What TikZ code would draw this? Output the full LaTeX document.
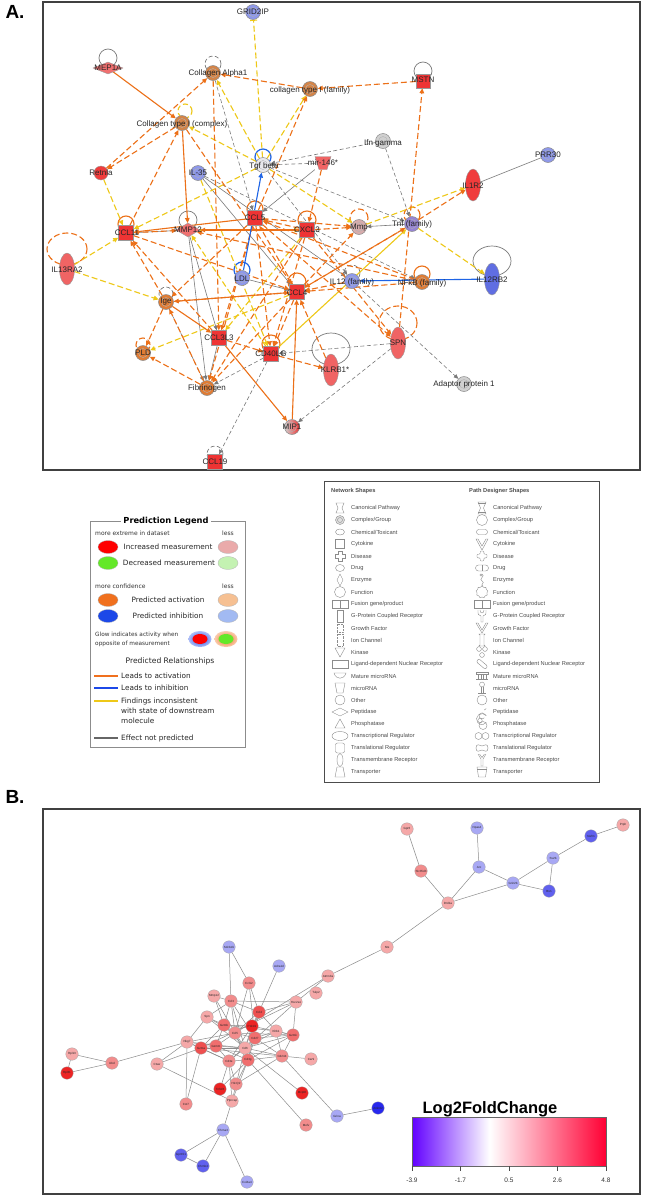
\documentclass[tikz,border=0pt]{standalone}
\usepackage{fontspec}
\setmainfont{Liberation Sans}
\newfontfamily\dvs{DejaVu Sans}
\usetikzlibrary{shapes.geometric,arrows.meta,calc}
\pgfdeclarelayer{bg}
\pgfdeclarelayer{paper}
\pgfsetlayers{paper,bg,main}
% node colours
\definecolor{nred}{RGB}{238,52,52}
\definecolor{nred2}{RGB}{240,60,60}
\definecolor{npink}{RGB}{240,100,100}
\definecolor{nmep}{RGB}{240,112,112}
\definecolor{norg}{RGB}{224,124,52}
\definecolor{ncol}{RGB}{212,132,72}
\definecolor{nbl}{RGB}{142,152,234}
\definecolor{nbl2}{RGB}{96,110,226}
\definecolor{ngry}{RGB}{208,208,208}
\definecolor{nwh}{RGB}{232,232,236}
\definecolor{ntnf}{RGB}{150,132,212}
\definecolor{nmmp}{RGB}{214,172,172}
% edge colours
\definecolor{eor}{RGB}{236,112,24}
\definecolor{eye}{RGB}{238,200,24}
\definecolor{egr}{RGB}{122,122,122}
\definecolor{ebl}{RGB}{30,100,230}
% legend colours
\definecolor{lred}{RGB}{255,0,0}
\definecolor{lredL}{RGB}{234,170,170}
\definecolor{lgrn}{RGB}{100,232,40}
\definecolor{lgrnL}{RGB}{196,242,178}
\definecolor{lorg}{RGB}{240,112,30}
\definecolor{lorgL}{RGB}{246,192,146}
\definecolor{lblu}{RGB}{28,72,232}
\definecolor{lbluL}{RGB}{162,186,242}
% panel B colours
\definecolor{bpL}{RGB}{245,168,168}
\definecolor{bp}{RGB}{242,140,140}
\definecolor{bp2}{RGB}{240,110,110}
\definecolor{br2}{RGB}{238,80,80}
\definecolor{br}{RGB}{236,36,36}
\definecolor{bbL}{RGB}{168,168,244}
\definecolor{bb}{RGB}{96,96,238}
\definecolor{bbD}{RGB}{40,40,238}
\definecolor{cbarL}{RGB}{98,0,255}
\definecolor{cbarR}{RGB}{255,0,52}
\pgfdeclarehorizontalshading{lfc}{100bp}{color(0bp)=(cbarL); color(25bp)=(cbarL); color(45bp)=(white); color(75bp)=(cbarR); color(100bp)=(cbarR)}
\newcommand\sloop[4]{\draw[#4] ($(#1.center)+(0,-#2)$) circle[radius=#3pt];}
\begin{document}
\begin{tikzpicture}[x=1pt,y=-1pt,
 ar/.style={-{Triangle[length=5pt,width=4.5pt]}},
 oD/.style={draw=eor,line width=1.1pt,dash pattern=on 6pt off 3pt,ar},
 oS/.style={draw=eor,line width=1.1pt,ar},
 yD/.style={draw=eye,line width=1.1pt,dash pattern=on 6pt off 3pt,ar},
 yS/.style={draw=eye,line width=1.1pt,ar},
 gD/.style={draw=egr,line width=0.6pt,dash pattern=on 4pt off 2.5pt,-{Triangle[length=4.5pt,width=4pt]}},
 gS/.style={draw=egr,line width=0.6pt,-{Triangle[length=4.5pt,width=4pt]}},
 bS/.style={draw=ebl,line width=1.1pt,ar},
 lO/.style={draw=eor,line width=1.1pt},
 lOD/.style={draw=eor,line width=1.1pt,dash pattern=on 6pt off 3pt},
 lY/.style={draw=eye,line width=1.1pt,dash pattern=on 5pt off 3pt},
 lG/.style={draw=egr,line width=0.7pt},
 lGD/.style={draw=egr,line width=0.7pt,dash pattern=on 4pt off 2.5pt},
 lB/.style={draw=ebl,line width=1.2pt},
 ci/.style={circle,draw=black!45,line width=0.5pt,minimum size=15pt,inner sep=0pt,
   path picture={\draw[black!30,line width=0.4pt] (path picture bounding box.center) circle[radius=4.5pt];}},
 sq/.style={rectangle,draw=black!40,line width=0.4pt,minimum size=15pt,inner sep=0pt},
 el/.style={ellipse,draw=black!40,line width=0.4pt,minimum width=15pt,minimum height=32pt,inner sep=0pt},
 dia/.style={diamond,draw=black!40,line width=0.4pt,aspect=2.5,minimum width=30pt,minimum height=12pt,inner sep=0pt},
 lbl/.style={font=\fontsize{8}{9}\selectfont,text=black!85,inner sep=0pt},
 frame/.style={draw=black!75,line width=1.4pt},
 ltx/.style={font=\dvs\fontsize{7.3}{8}\selectfont,text=black!85,inner sep=0pt},
 ltxs/.style={font=\dvs\fontsize{6}{7}\selectfont,text=black!80,inner sep=0pt},
 lel/.style={ellipse,draw=black!30,line width=0.3pt,minimum width=20pt,minimum height=13pt,inner sep=0pt},
 ntx/.style={font=\fontsize{5.7}{6.5}\selectfont,text=black!70,anchor=west,inner sep=0pt},
 ic/.style={draw=black!45,line width=0.4pt},
 bn/.style={circle,draw=black!35,line width=0.3pt,minimum size=12.5pt,inner sep=0pt,font=\fontsize{3}{3}\selectfont,text=black!85},
 be/.style={draw=black!45,line width=0.5pt}
]
\useasboundingbox (0,0) rectangle (645,1197);
\begin{pgfonlayer}{paper}
\fill[white] (0,0) rectangle (645,1197);
\end{pgfonlayer}

% ================= PANEL A =================
\draw[frame] (43,2) rectangle (640,470);
\node[font=\bfseries\fontsize{19}{19}\selectfont] (labA) at (15,12) {A.};

\node[ci,fill=nbl] (grid) at (253,12) {};
\node[dia,fill=nmep] (mep) at (108,68) {};
\node[ci,fill=ncol] (colA) at (213,73) {};
\node[ci,fill=ncol] (colF) at (310,89) {};
\node[sq,fill=nred,minimum size=14pt] (mstn) at (423,81) {};
\node[ci,fill=ncol] (colC) at (182,123) {};
\node[ci,fill=ngry] (ifn) at (383,141) {};
\node[ci,fill=nbl] (prr) at (548,155) {};
\node[ci,fill=nwh] (tgf) at (263,165) {};
\node[rectangle,minimum width=16pt,minimum height=13pt,inner sep=0pt] (mir) at (323,163) {};
\filldraw[fill=npink,draw=black!40,line width=0.4pt] (315,156.5) -- (331,156.5) -- (327,169.5) -- (319,169.5) -- cycle;
\node[circle,draw=black!40,minimum size=14pt,inner sep=0pt,fill=nred2] (retn) at (101,173) {};
\node[ci,fill=nbl] (il35) at (198,173) {};
\node[el,fill=nred2] (il1r2) at (473,185) {};
\node[sq,fill=nred] (ccl5) at (255,218) {};
\node[sq,fill=nred] (ccl11) at (126,233) {};
\node[dia,fill=nmep,minimum width=24pt,minimum height=14pt,aspect=1.7] (mmp12) at (188,230) {};
\node[sq,fill=nred] (cxcl3) at (307,230) {};
\node[ci,fill=nmmp] (mmp) at (359,227) {};
\node[ci,fill=ntnf] (tnf) at (412,224) {};
\node[el,fill=npink] (il13) at (67,269) {};
\node[el,fill=nbl2] (il12rb2) at (492,279) {};
\node[ci,fill=nbl] (ldl) at (242,278) {};
\node[sq,fill=nred] (ccl4) at (297,292) {};
\node[ci,fill=nbl] (il12) at (352,281) {};
\node[ci,fill=norg] (nfkb) at (422,282) {};
\node[ci,fill=norg] (ige) at (166,302) {};
\node[ci,fill=norg] (pld) at (143,353) {};
\node[sq,fill=nred] (ccl3l3) at (219,338) {};
\node[sq,fill=nred] (cd40) at (271,354) {};
\node[el,fill=npink] (klrb) at (331,370) {};
\node[el,fill=npink] (spn) at (398,343) {};
\node[ci,fill=norg] (fib) at (207,388) {};
\node[ci,fill=ngry] (ap1) at (464,384) {};
\node[ci,left color=ngry,right color=nred] (mip1) at (292,427) {};
\node[sq,fill=nred] (ccl19) at (215,462) {};

\begin{pgfonlayer}{bg}
% self loops
\sloop{mep}{10}{9}{lG}
\sloop{colA}{9}{8}{lGD}
\sloop{mstn}{10}{9}{lG}
\draw[lY] (185,111) circle[radius=7pt];
\sloop{tgf}{8}{8}{lB}
\sloop{ccl5}{9}{8}{lO}
\sloop{ccl11}{9}{8}{lO}
\sloop{mmp12}{10}{9}{lG}
\sloop{cxcl3}{10}{9}{lO}
\sloop{mmp}{9}{9}{lOD}
\sloop{tnf}{9}{8}{lOD}
\draw[lOD] (67,249) ellipse[x radius=20pt,y radius=16pt];
\draw[lG] (492,261) ellipse[x radius=19pt,y radius=15pt];
\sloop{ldl}{8}{8}{lB}
\sloop{il12}{8}{8}{lGD}
\sloop{ccl4}{10}{9}{lO}
\sloop{nfkb}{8}{8}{lO}
\sloop{ige}{8}{7}{lGD}
\sloop{pld}{8}{7}{lOD}
\sloop{cd40}{10}{9}{lO}
\draw[lG] (331,349) ellipse[x radius=19pt,y radius=16pt];
\draw[lOD] (398,323) ellipse[x radius=19pt,y radius=17pt];
\sloop{ccl19}{8}{8}{lGD}
% gray edges
\draw[gS,-] (prr) -- (il1r2);
\draw[gD] (colA) -- (ccl5);
\draw[gD] (ifn) -- (tgf);
\draw[gD] (ifn) -- (tnf);
\draw[gD] (mir) -- (tgf);
\draw[gD] (tgf) -- (il12);
\draw[gD] (tgf) -- (tnf);
\draw[gD] (ige) -- (fib);
\draw[gD] (cd40) -- (fib);
\draw[gD] (cd40) -- (ccl19);
\draw[gD] (spn) -- (mip1);
\draw[gD] (spn) -- (cd40);
\draw[gD] (il12) -- (ap1);
\draw[gD] (il35) -- (nfkb);
\draw[gS] (mmp12) -- (fib);
\draw[gS] (mmp12) -- (ccl3l3);
\draw[gS] (ccl3l3) -- (fib);
\draw[gS] (il35) -- (il12);
\draw[gS] (il35) -- (ccl4);
\draw[gS] (ldl) -- (ccl4);
\draw[gS] (tnf) -- (mmp);
\draw[gS] (mmp12) -- (ccl11);
\draw[gS] (mir) -- (ccl5);
% yellow edges
\draw[yD,-{Bar[width=7pt]}] (tgf) -- (grid);
\draw[yD] (tgf) -- (colA);
\draw[yD] (tgf) -- (colC);
\draw[yD] (tgf) -- (colF);
\draw[yD] (tgf) -- (ccl11);
\draw[yD] (retn) -- (ccl11);
\draw[yD] (il13) -- (ccl11);
\draw[yD] (il13) -- (ige);
\draw[yD] (tgf) -- (mmp);
\draw[yD] (mmp) -- (il1r2);
\draw[yD] (tnf) -- (il12rb2);
\draw[yD] (ccl4) -- (pld);
\draw[yD] (cxcl3) -- (ccl3l3);
\draw[yD] (cd40) -- (mmp12);
\draw[yD] (il35) -- (cd40);
\draw[yS] (mmp12) -- (cxcl3);
\draw[yS] (cd40) -- (tnf);
% orange edges
\draw[oS] (mep) -- (colC);
\draw[oS] (colC) -- (mmp12);
\draw[oS] (ccl3l3) -- (mip1);
\draw[oS] (mip1) -- (ccl4);
\draw[oS] (cxcl3) -- (mmp12);
\draw[oS] (ccl5) -- (ccl11);
\draw[oS] (ige) -- (ccl3l3);
\draw[oS] (ige) -- (ccl4);
\draw[oD] (colF) -- (colA);
\draw[oD] (mstn) -- (colF);
\draw[oD] (spn) -- (mstn);
\draw[oD] (retn) -- (colA);
\draw[oD] (ccl11) -- (colC);
\draw[oD] (colC) -- (retn);
\draw[oD] (colA) -- (ccl3l3);
\draw[oD] (colC) -- (ccl4);
\draw[oD] (ccl5) -- (colF);
\draw[oD] (mir) -- (cxcl3);
\draw[oD] (ccl4) -- (tnf);
\draw[oD] (ccl4) -- (mmp);
\draw[oD] (ccl5) -- (mmp);
\draw[oD] (cxcl3) -- (mmp);
\draw[oD] (tnf) -- (il1r2);
\draw[oD] (tnf) -- (ccl4);
\draw[oD] (ccl11) -- (mmp12);
\draw[oD] (ccl11) -- (ccl4);
\draw[oD] (ige) -- (ccl11);
\draw[oD] (ccl3l3) -- (ccl11);
\draw[oD] (ccl4) -- (ige);
\draw[oD] (ccl5) -- (ige);
\draw[oD] (ige) -- (pld);
\draw[oD] (fib) -- (pld);
\draw[oD] (fib) -- (ige);
\draw[oD] (ccl3l3) -- (cd40);
\draw[oD] (cd40) -- (klrb);
\draw[oD] (klrb) -- (ccl4);
\draw[oD] (ccl4) -- (fib);
\draw[oD] (ccl5) -- (fib);
\draw[oD] (cxcl3) -- (fib);
\draw[oD] (ccl5) -- (spn);
\draw[oD] (cxcl3) -- (spn);
\draw[oD] (nfkb) -- (ccl4);
\draw[oD] (nfkb) -- (ccl5);
\draw[oD] (nfkb) -- (mmp12);
\draw[oD] (ccl5) -- (ccl3l3);
\draw[oD] (ccl4) -- (ccl5);
\draw[oD] (cxcl3) -- (ccl5);
\draw[oD] (il12) -- (ccl4);
\draw[oD] (ccl4) -- (cd40);
\draw[oD] (cxcl3) -- (cd40);
\draw[oD] (ccl5) -- (cd40);
% blue edges
\draw[bS] (ldl) -- (tgf);
\draw[bS] (il12rb2) -- (il12);
\end{pgfonlayer}

\node[lbl] at (253,12) {GRID2IP};
\node[lbl] at (108,68) {MEP1A};
\node[lbl] at (218,73) {Collagen Alpha1};
\node[lbl] at (310,90) {collagen type I (family)};
\node[lbl] at (423,80) {MSTN};
\node[lbl] at (182,124) {Collagen type I (complex)};
\node[lbl] at (383,143) {Ifn gamma};
\node[lbl] at (548,155) {PRR30};
\node[lbl] at (264,166) {Tgf beta};
\node[lbl] at (323,163) {mir-146*};
\node[lbl] at (101,173) {Retnla};
\node[lbl] at (198,173) {IL-35};
\node[lbl] at (473,186) {IL1R2};
\node[lbl] at (255,218) {CCL5};
\node[lbl] at (127,233) {CCL11};
\node[lbl] at (188,230) {MMP12};
\node[lbl] at (307,230) {CXCL3};
\node[lbl] at (359,228) {Mmp};
\node[lbl] at (412,224) {Tnf (family)};
\node[lbl] at (67,270) {IL13RA2};
\node[lbl] at (492,280) {IL12RB2};
\node[lbl] at (242,279) {LDL};
\node[lbl] at (297,293) {CCL4};
\node[lbl] at (352,282) {IL12 (family)};
\node[lbl] at (422,283) {NFkB (family)};
\node[lbl] at (166,302) {Ige};
\node[lbl] at (143,353) {PLD};
\node[lbl] at (219,338) {CCL3L3};
\node[lbl] at (271,354) {CD40LG};
\node[lbl] at (335,370) {KLRB1*};
\node[lbl] at (398,343) {SPN};
\node[lbl] at (207,388) {Fibrinogen};
\node[lbl] at (464,384) {Adaptor protein 1};
\node[lbl] at (292,427) {MIP1};
\node[lbl] at (215,462) {CCL19};

% ================= PREDICTION LEGEND =================
\draw[black!45,line width=0.6pt] (90,521) rectangle (245,747);
\node[fill=white,inner xsep=2pt,inner ysep=1pt,font=\dvs\bfseries\fontsize{8.3}{9}\selectfont] (plt) at (166,521) {Prediction Legend};
\node[ltxs,anchor=west] at (95,533) {more extreme in dataset};
\node[ltxs,anchor=west] at (222,533) {less};
\node[lel,fill=lred] (e1) at (108,547) {};
\node[lel,fill=lredL] (e2) at (228,547) {};
\node[ltx] at (168,547) {Increased measurement};
\node[lel,fill=lgrn] (e3) at (108,563) {};
\node[lel,fill=lgrnL] (e4) at (228,563) {};
\node[ltx] at (169,563) {Decreased measurement};
\node[ltxs,anchor=west] at (95,586) {more confidence};
\node[ltxs,anchor=west] at (222,586) {less};
\node[lel,fill=lorg] (e5) at (108,600) {};
\node[lel,fill=lorgL] (e6) at (228,600) {};
\node[ltx] at (168,600) {Predicted activation};
\node[lel,fill=lblu] (e7) at (108,616) {};
\node[lel,fill=lbluL] (e8) at (228,616) {};
\node[ltx] at (168,616) {Predicted inhibition};
\node[ltxs,anchor=west,font=\dvs\fontsize{5.8}{6.5}\selectfont] at (95,635) {Glow indicates activity when};
\node[ltxs,anchor=west,font=\dvs\fontsize{5.8}{6.5}\selectfont] at (95,644) {opposite of measurement};
\node[ellipse,inner color=lblu,outer color=lblu!35,minimum width=23pt,minimum height=16pt,inner sep=0pt] (g1) at (200,639) {};
\node[ellipse,fill=lred,minimum width=15pt,minimum height=10pt,inner sep=0pt] (g1i) at (200,639) {};
\node[ellipse,inner color=lorg,outer color=lorg!35,minimum width=23pt,minimum height=16pt,inner sep=0pt] (g2) at (226,639) {};
\node[ellipse,fill=lgrn,minimum width=15pt,minimum height=10pt,inner sep=0pt] (g2i) at (226,639) {};
\node[ltx,font=\dvs\fontsize{7.6}{8}\selectfont] at (170,661) {Predicted Relationships};
\draw[lorg,line width=1.6pt] (94,676) -- (118,676);
\node[ltx,anchor=west] at (121,676) {Leads to activation};
\draw[lblu,line width=1.6pt] (94,688) -- (118,688);
\node[ltx,anchor=west] at (121,688) {Leads to inhibition};
\draw[eye,line width=1.6pt] (94,701) -- (118,701);
\node[ltx,anchor=west] at (121,701) {Findings inconsistent};
\node[ltx,anchor=west] at (121,711) {with state of downstream};
\node[ltx,anchor=west] at (121,721) {molecule};
\draw[black!60,line width=1.6pt] (94,738) -- (118,738);
\node[ltx,anchor=west] at (121,738) {Effect not predicted};

% ================= NETWORK SHAPES LEGEND =================
\draw[black!70,line width=0.7pt] (324,481) rectangle (599,782);
\node[ntx,font=\bfseries\fontsize{5.7}{6.5}\selectfont] at (331,491) {Network Shapes};
\node[ntx,font=\bfseries\fontsize{5.7}{6.5}\selectfont] at (469,491) {Path Designer Shapes};
\foreach \t [count=\i from 0] in {Canonical Pathway,Complex/Group,Chemical/Toxicant,Cytokine,Disease,Drug,Enzyme,Function,Fusion gene/product,G-Protein Coupled Receptor,Growth Factor,Ion Channel,Kinase,Ligand-dependent Nuclear Receptor,Mature microRNA,microRNA,Other,Peptidase,Phosphatase,Transcriptional Regulator,Translational Regulator,Transmembrane Receptor,Transporter}{
  \node[ntx] at (351,508+12*\i) {\t};
  \node[ntx] at (493,508+12*\i) {\t};
}
% left icons
\begin{scope}[shift={(340,508)}]\draw[ic] (-4,-5)--(4,-5)--(2,0)--(4,5)--(-4,5)--(-2,0)--cycle;\end{scope}
\begin{scope}[shift={(340,520)}]\draw[ic,fill=black!12] (0,0) circle[radius=4.5pt];\draw[ic] (0,0) circle[radius=2.5pt];\end{scope}
\begin{scope}[shift={(340,532)}]\draw[ic] (0,0) ellipse[x radius=4.5pt,y radius=3pt];\end{scope}
\begin{scope}[shift={(340,544)}]\draw[ic] (-4.5,-4.5) rectangle (4.5,4.5);\end{scope}
\begin{scope}[shift={(340,556)}]\draw[ic] (-1.8,-5)--(1.8,-5)--(1.8,-1.8)--(5,-1.8)--(5,1.8)--(1.8,1.8)--(1.8,5)--(-1.8,5)--(-1.8,1.8)--(-5,1.8)--(-5,-1.8)--(-1.8,-1.8)--cycle;\end{scope}
\begin{scope}[shift={(340,568)}]\draw[ic] (0,0) ellipse[x radius=4.5pt,y radius=3.5pt];\end{scope}
\begin{scope}[shift={(340,580)}]\draw[ic] (0,-6)--(3,0)--(0,6)--(-3,0)--cycle;\end{scope}
\begin{scope}[shift={(340,592)}]\draw[ic] (0,0) circle[radius=5.5pt];\end{scope}
\begin{scope}[shift={(340,604)}]\draw[ic] (-8,-4) rectangle (8,4);\draw[ic] (0,-4)--(0,4);\end{scope}
\begin{scope}[shift={(340,616)}]\draw[ic] (-3,-6) rectangle (3,6);\end{scope}
\begin{scope}[shift={(340,628)}]\draw[ic,densely dotted] (-3,-4) rectangle (3,4);\end{scope}
\begin{scope}[shift={(340,640)}]\draw[ic,densely dotted] (-3,-6) rectangle (3,6);\end{scope}
\begin{scope}[shift={(340,652)}]\draw[ic] (-5,-4)--(5,-4)--(0,5)--cycle;\end{scope}
\begin{scope}[shift={(340,664)}]\draw[ic] (-8,-4) rectangle (8,4);\end{scope}
\begin{scope}[shift={(340,676)}]\draw[ic] (-6,-3)--(6,-3) .. controls (4,4) and (-4,4) .. (-6,-3)--cycle;\end{scope}
\begin{scope}[shift={(340,688)}]\draw[ic] (-5,-5)--(5,-5)--(3,5)--(-3,5)--cycle;\end{scope}
\begin{scope}[shift={(340,700)}]\draw[ic] (0,0) circle[radius=5pt];\end{scope}
\begin{scope}[shift={(340,712)}]\draw[ic] (-8,0)--(0,-4)--(8,0)--(0,4)--cycle;\end{scope}
\begin{scope}[shift={(340,724)}]\draw[ic] (0,-5)--(5,4)--(-5,4)--cycle;\end{scope}
\begin{scope}[shift={(340,736)}]\draw[ic] (0,0) ellipse[x radius=8pt,y radius=4.5pt];\end{scope}
\begin{scope}[shift={(340,748)}]\draw[ic,rounded corners=2pt] (-4.5,-5) rectangle (4.5,5);\end{scope}
\begin{scope}[shift={(340,760)}]\draw[ic] (0,0) ellipse[x radius=3pt,y radius=6.5pt];\end{scope}
\begin{scope}[shift={(340,772)}]\draw[ic] (-3,-5)--(3,-5)--(5,5)--(-5,5)--cycle;\end{scope}
% right icons
\begin{scope}[shift={(482,508)}]\draw[ic] (-4,-6)--(4,-6)--(1.5,0)--(4,6)--(-4,6)--(-1.5,0)--cycle;\draw[ic] (-4,-4.5)--(4,-4.5);\draw[ic] (-4,4.5)--(4,4.5);\end{scope}
\begin{scope}[shift={(482,520)}]\draw[ic] (0,0) circle[radius=5.5pt];\end{scope}
\begin{scope}[shift={(482,532)}]\draw[ic,rounded corners=2.4pt] (-5.5,-2.5) rectangle (5.5,2.5);\end{scope}
\begin{scope}[shift={(482,544)}]\draw[ic] (-6,-5)--(-4,-5)--(0,2)--(4,-5)--(6,-5)--(0,6)--cycle;\end{scope}
\begin{scope}[shift={(482,556)}]\draw[ic,rounded corners=1pt] (-1.8,-5)--(1.8,-5)--(1.8,-1.8)--(5,-1.8)--(5,1.8)--(1.8,1.8)--(1.8,5)--(-1.8,5)--(-1.8,1.8)--(-5,1.8)--(-5,-1.8)--(-1.8,-1.8)--cycle;\end{scope}
\begin{scope}[shift={(482,568)}]\draw[ic,rounded corners=3pt] (-6.5,-3) rectangle (6.5,3);\draw[ic] (0,-3)--(0,3);\end{scope}
\begin{scope}[shift={(482,580)}]\draw[ic] (0,-6) .. controls (4,-4) and (-4,-1) .. (0,1) .. controls (4,3) and (-3,5) .. (1,6);\draw[ic] (-1,-5) circle[radius=1.2pt];\end{scope}
\begin{scope}[shift={(482,592)}]\node[star,star points=9,star point ratio=1.2,draw=black!45,line width=0.4pt,minimum size=12pt,inner sep=0pt] (fstar) at (0,0) {};\end{scope}
\begin{scope}[shift={(482,604)}]\draw[ic] (-8,-4) rectangle (8,4);\draw[ic] (0,-4)--(0,4);\end{scope}
\begin{scope}[shift={(482,616)}]\draw[ic] (-4,-6) .. controls (-4,-1) .. (-1,0) -- (-1,6) -- (1,6) -- (1,0) .. controls (4,-1) .. (4,-6);\draw[ic] (-2,-6) .. controls (-2,-2) and (2,-2) .. (2,-6);\end{scope}
\begin{scope}[shift={(482,628)}]\draw[ic] (-6,-5)--(-4,-5)--(0,2)--(4,-5)--(6,-5)--(0,5)--cycle;\end{scope}
\begin{scope}[shift={(482,640)}]\draw[ic] (-3,-6)--(3,-6)--(2,-5)--(2,5)--(3,6)--(-3,6)--(-2,5)--(-2,-5)--cycle;\end{scope}
\begin{scope}[shift={(482,652)}]\draw[ic] (-3,-3) circle[radius=2.4pt];\draw[ic] (3,-3) circle[radius=2.4pt];\draw[ic] (0,3) circle[radius=2.4pt];\end{scope}
\begin{scope}[shift={(482,664)}]\draw[ic,rounded corners=2pt,rotate=-40] (-6,-2) rectangle (6,2);\end{scope}
\begin{scope}[shift={(482,676)}]\draw[ic] (-6,-4) rectangle (6,-1.5);\foreach \q in {-4,-1.3,1.3,4}{\draw[ic] (\q,-1.5)--(\q,3.5);}\draw[ic] (-6,3.5)--(6,3.5);\end{scope}
\begin{scope}[shift={(482,688)}]\draw[ic] (0,-3.5) circle[radius=2.5pt];\draw[ic] (-1,-1)--(-1,5);\draw[ic] (1,-1)--(1,5);\draw[ic] (-4,5)--(4,5);\end{scope}
\begin{scope}[shift={(482,700)}]\draw[ic] (0,0) circle[radius=5pt];\end{scope}
\begin{scope}[shift={(482,712)}]\draw[ic] (40:5.5) arc[start angle=40,end angle=320,radius=5.5pt];\draw[ic] (40:3) arc[start angle=40,end angle=320,radius=3pt];\draw[ic] (40:3)--(40:5.5);\draw[ic] (320:3)--(320:5.5);\end{scope}
\begin{scope}[shift={(482,724)}]\draw[ic] (1,1.5) circle[radius=4pt];\draw[ic] (-2,-3.5) circle[radius=2.2pt];\end{scope}
\begin{scope}[shift={(482,736)}]\draw[ic] (-3.5,0) circle[radius=3.5pt];\draw[ic] (3.5,0) circle[radius=3.5pt];\end{scope}
\begin{scope}[shift={(482,748)}]\draw[ic] (-6,0) .. controls (-6,-5) and (-2,-3) .. (0,-2) .. controls (2,-3) and (6,-5) .. (6,0) .. controls (6,5) and (2,3) .. (0,2) .. controls (-2,3) and (-6,5) .. (-6,0);\end{scope}
\begin{scope}[shift={(482,760)}]\draw[ic] (-4,-6)--(-1,-1)--(-1,6)--(1,6)--(1,-1)--(4,-6);\draw[ic] (-2.5,-6)--(0,-2.5)--(2.5,-6);\end{scope}
\begin{scope}[shift={(482,772)}]\draw[ic] (-5,-5)--(5,-5)--(3.5,5)--(-3.5,5)--cycle;\draw[ic] (-5,-3)--(5,-3);\end{scope}

% ================= PANEL B =================
\draw[frame] (43,809) rectangle (640,1194);
\node[font=\bfseries\fontsize{19}{19}\selectfont] (labB) at (15,797) {B.};

\node[bn,fill=bpL] (gpr6) at (407,829) {Gpr6};
\node[bn,fill=bbL] (npas4) at (477,828) {Npas4};
\node[bn,fill=bpL] (prph) at (623,825) {Prph};
\node[bn,fill=bb] (nefm) at (591,836) {Nefm};
\node[bn,fill=bbL] (sv2b) at (553,858) {Sv2b};
\node[bn,fill=bbL] (arc) at (479,867) {Arc};
\node[bn,fill=bp] (slc) at (421,871) {Slc35d3};
\node[bn,fill=bbL] (grin) at (513,883) {Grin2b};
\node[bn,fill=bb] (bsn) at (549,891) {Bsn};
\node[bn,fill=bpL] (drd) at (448,903) {Drd1a};
\node[bn,fill=bpL] (nts) at (387,947) {Nts};
\node[bn,fill=bbL] (sdc) at (229,947) {Sdcbd1};
\node[bn,fill=bbL] (adra) at (279,966) {Adra1d};
\node[bn,fill=bpL] (atmn) at (328,976) {Atmn3a};
\node[bn,fill=bp] (ccl12) at (249,983) {Ccl12};
\node[bn,fill=bpL] (tulp) at (316,993) {Tulp2};
\node[bn,fill=bpL] (mmpb) at (214,996) {Mmp12};
\node[bn,fill=bp] (ccl3) at (231,1001) {Ccl3};
\node[bn,fill=bpL] (hsc) at (296,1002) {Hsc2a1};
\node[bn,fill=br2] (ccl4b) at (259,1012) {Ccl4};
\node[bn,fill=bpL] (spnb) at (207,1017) {Spn};
\node[bn,fill=bp2] (gzmb) at (224,1025) {Gzmb};
\node[bn,fill=bp] (ccl5b) at (235,1033) {Ccl5};
\node[bn,fill=bpL] (klrb1) at (276,1031) {Klrb1};
\node[bn,fill=bp2] (gzmk) at (293,1035) {Gzmk};
\node[bn,fill=bpL] (nkg7) at (187,1042) {Nkg7};
\node[bn,fill=br2] (gzma) at (201,1048) {Gzma};
\node[bn,fill=bp2] (gzmm) at (216,1046) {Gzmm};
\node[bn,fill=bpL] (cd6) at (245,1048) {Cd6};
\node[bn,fill=bp2] (cd27) at (255,1038) {Cd27};
\node[bn,fill=br] (pdcd) at (252,1026) {Pdcd1};
\node[bn,fill=bp] (cd3e) at (229,1061) {Cd3e};
\node[bn,fill=bp2] (cd3g) at (248,1060) {Cd3g};
\node[bn,fill=bp] (cd244) at (282,1056) {Cd244};
\node[bn,fill=bpL] (car9) at (311,1059) {Car9};
\node[bn,fill=bpL] (ctsw) at (157,1064) {Ctsw};
\node[bn,fill=bpL] (rpl13) at (72,1054) {Rpl13};
\node[bn,fill=bp] (ubd) at (112,1063) {Ubd};
\node[bn,fill=br] (rpl31) at (67,1073) {Rpl31};
\node[bn,fill=br] (tnfsf8) at (220,1089) {Tnfsf8};
\node[bn,fill=bp] (h2q2) at (236,1084) {H2-Q2};
\node[bn,fill=br] (mcpt8) at (302,1093) {Mcpt8};
\node[bn,fill=bp] (cst7) at (186,1104) {Cst7};
\node[bn,fill=bpL] (ptpr) at (232,1101) {Ptprcap};
\node[bn,fill=bbL] (grina) at (337,1116) {Grina};
\node[bn,fill=bbD] (ankrd) at (378,1108) {Ankrd2};
\node[bn,fill=bp] (mefv) at (306,1125) {Mefv};
\node[bn,fill=bbL] (chrna) at (223,1130) {Chrna3};
\node[bn,fill=bb] (gpr151) at (181,1155) {Gpr151};
\node[bn,fill=bb] (chrnb) at (203,1166) {Chrnb4};
\node[bn,fill=bbL] (col4) at (247,1182) {Col4a4};

\begin{pgfonlayer}{bg}
\foreach \a/\b in {gpr6/slc,slc/drd,npas4/arc,arc/drd,arc/grin,drd/grin,grin/sv2b,grin/bsn,sv2b/bsn,sv2b/nefm,nefm/prph,drd/nts,nts/atmn,
 atmn/hsc,atmn/ccl5b,sdc/ccl3,sdc/ccl12,adra/ccl4b,ccl12/ccl4b,ccl12/ccl5b,ccl12/cd27,
 mmpb/ccl3,mmpb/gzmb,mmpb/ccl5b,ccl3/ccl4b,ccl3/ccl5b,ccl3/gzmb,ccl3/cd6,ccl3/cd27,ccl3/spnb,ccl3/hsc,
 hsc/gzmk,hsc/ccl4b,hsc/cd6,hsc/gzma,ccl4b/ccl5b,ccl4b/pdcd,ccl4b/cd6,ccl4b/klrb1,ccl4b/cd3g,
 spnb/gzmb,spnb/ccl5b,spnb/cd6,gzmb/pdcd,gzmb/ccl5b,gzmb/gzma,gzmb/gzmm,gzmb/cd6,gzmb/klrb1,
 pdcd/cd27,pdcd/cd6,pdcd/gzmk,pdcd/cd3e,ccl5b/cd27,ccl5b/cd6,ccl5b/gzmm,ccl5b/nkg7,ccl5b/cd3g,ccl5b/gzmk,
 klrb1/cd27,klrb1/gzmk,klrb1/cd6,klrb1/cd244,cd27/cd6,cd27/cd3g,cd27/cd244,cd27/gzmk,cd27/cd3e,
 gzmk/cd6,gzmk/cd244,gzmk/cd3g,nkg7/gzma,nkg7/gzmm,nkg7/cd6,nkg7/spnb,nkg7/ubd,nkg7/ctsw,nkg7/cst7,nkg7/cd3e,
 gzma/gzmm,gzma/cd6,gzma/ctsw,gzma/cst7,gzma/cd3e,gzma/cd244,gzmm/cd6,gzmm/cd3e,gzmm/cd3g,
 cd6/cd3e,cd6/cd3g,cd6/cd244,cd6/mcpt8,cd3e/cd3g,cd3e/tnfsf8,cd3e/h2q2,cd3e/ptpr,
 cd3g/cd244,cd3g/h2q2,cd3g/tnfsf8,cd3g/ptpr,cd3g/mefv,cd244/car9,cd244/grina,cd244/h2q2,
 ctsw/ptpr,ubd/rpl13,ubd/rpl31,rpl13/rpl31,ptpr/chrna,chrna/gpr151,chrna/chrnb,gpr151/chrnb,chrna/col4,
 grina/ankrd,ptpr/cd6}{
  \draw[be] (\a) -- (\b);
}
\end{pgfonlayer}

% colour bar
\node[font=\bfseries\fontsize{16.5}{17}\selectfont] (cbt) at (490,1109) {Log2FoldChange};
\shade[shading=lfc,draw=black!60,line width=0.4pt] (412,1117) rectangle (606,1166);
\foreach \v [count=\i from 0] in {-3.9,-1.7,0.5,2.6,4.8}{
  \draw[black!70,line width=0.5pt] (412+48.5*\i,1166) -- (412+48.5*\i,1171);
  \node[font=\fontsize{6.5}{7}\selectfont,text=black!80] at (412+48.5*\i,1180) {\v};
}
\end{tikzpicture}
\end{document}
